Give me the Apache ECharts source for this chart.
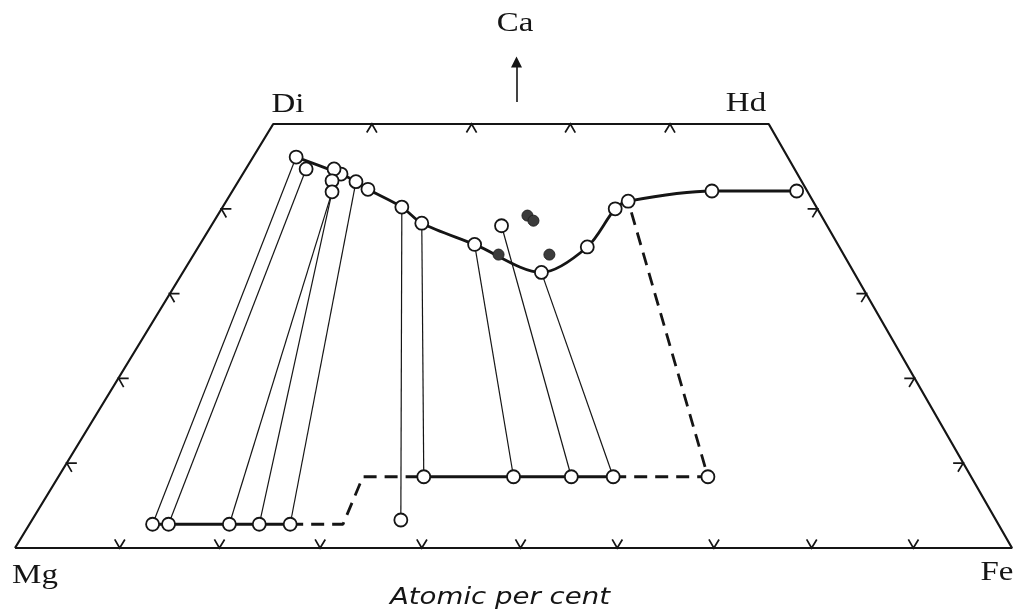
<!DOCTYPE html>
<html>
<head>
<meta charset="utf-8">
<script src="https://cdn.jsdelivr.net/npm/echarts@6/dist/echarts.min.js"></script>
<style>
html, body { margin: 0; background: #fff; }
#chart { width: 1020px; height: 614px; }
</style>
</head>
<body>
<div id="chart"></div>
<script>
// x = position along the Mg-Fe base (%), y = Ca (atomic %)
const corners = [[0, 0], [25.9, 50], [75.6, 50], [100, 0]] // Mg, Di, Hd, Fe
const bottomTicks = [10.5, 20.5, 30.6, 40.8, 50.7, 60.4, 70.1, 79.9, 90.1]
const topTicks = [35.8, 45.8, 55.7, 65.7]
const leftTicks = [[5.2, 10], [10.4, 20], [15.5, 30], [20.7, 40]]
const rightTicks = [[95.1, 10], [90.2, 20], [85.4, 30], [80.5, 40]]

// Ca-rich pyroxene trend
const trend = [[28.2, 46.1], [32.7, 44.1], [34.2, 43.2], [35.4, 42.3], [38.8, 40.2], [40.8, 38.3],
    [46.1, 35.8], [52.8, 32.5], [57.4, 35.5], [60.2, 40.0], [61.5, 40.9], [69.9, 42.1], [78.4, 42.1]]
const extraOpen = [[29.2, 44.7], [32.0, 44.7], [31.8, 43.3], [31.8, 42.0], [48.8, 38.0]]
const filled = [[48.5, 34.6], [51.4, 39.2], [52.0, 38.6], [53.6, 34.6]]
// Ca-poor pyroxenes
const lowRow = [[13.8, 2.8], [15.4, 2.8], [21.5, 2.8], [24.5, 2.8], [27.6, 2.8]]
const midRow = [[41.0, 8.4], [50.0, 8.4], [55.8, 8.4], [60.0, 8.4]]
const dashLow = [[27.6, 2.8], [32.9, 2.8], [34.9, 8.4], [41.0, 8.4]]
const dashHigh = [[60.0, 8.4], [69.5, 8.4], [61.5, 40.9]]
const isolated = [[38.7, 3.3], [69.5, 8.4]]
const tieLines = [
    [[28.2, 46.1], [13.8, 2.8]],
    [[29.2, 44.7], [15.4, 2.8]],
    [[31.8, 42.0], [21.5, 2.8]],
    [[31.8, 42.0], [24.5, 2.8]],
    [[34.2, 43.2], [27.6, 2.8]],
    [[38.8, 40.2], [38.7, 3.3]],
    [[40.8, 38.3], [41.0, 8.4]],
    [[46.1, 35.8], [50.0, 8.4]],
    [[48.8, 38.0], [55.8, 8.4]],
    [[52.8, 32.5], [60.0, 8.4]],
]
const caArrow = [[50.3, 52.6], [50.3, 57.3]]

const tickData = [
    ...bottomTicks.map(x => [x, 0, 0]),
    ...topTicks.map(x => [x, 50, 1]),
    ...leftTicks.map(p => [p[0], p[1], 2]),
    ...rightTicks.map(p => [p[0], p[1], 3]),
]

const unit = (a, b) => {
    const dx = b[0] - a[0], dy = b[1] - a[1], l = Math.hypot(dx, dy)
    return [dx / l, dy / l]
}
const neg = v => [-v[0], -v[1]]

const ink = '#151515'
const openCircle = {
    type: 'scatter',
    symbol: 'circle',
    symbolSize: 13,
    z: 5,
    itemStyle: { color: '#fff', borderColor: ink, borderWidth: 1.8, opacity: 1 },
}
const labelStyle = (text, x, y) => ({
    type: 'text',
    x, y,
    scaleX: 1.22,
    style: {
        text,
        fontSize: 27,
        fontFamily: 'Liberation Serif',
        fill: ink,
        textAlign: 'center',
        textVerticalAlign: 'middle',
        align: 'center',
        verticalAlign: 'middle',
    },
})

const myChart = echarts.init(document.getElementById('chart'))
const option = {
    backgroundColor: '#fff',
    animation: false,
    grid: { left: 15, right: 8, top: 39.2, bottom: 66 },
    xAxis: { type: 'value', min: 0, max: 100, show: false },
    yAxis: { type: 'value', min: 0, max: 60, show: false },
    graphic: [
        labelStyle('Ca', 515, 24),
        labelStyle('Di', 288, 105),
        labelStyle('Hd', 746, 104),
        labelStyle('Mg', 35, 576),
        labelStyle('Fe', 997, 573),
        {
            type: 'text',
            x: 500, y: 598,
            scaleX: 1.2,
            style: {
                text: 'Atomic per cent',
                fontSize: 23,
                fontStyle: 'italic',
                fontFamily: 'DejaVu Sans',
                fill: ink,
                textAlign: 'center',
                textVerticalAlign: 'middle',
                align: 'center',
                verticalAlign: 'middle',
            },
        },
    ],
    series: [
        {
            // quadrilateral outline
            type: 'line',
            data: [...corners, corners[0]],
            showSymbol: false,
            lineStyle: { color: ink, width: 2.2 },
            z: 2,
        },
        {
            // chevron ticks along the edges
            type: 'custom',
            data: tickData,
            encode: { x: 0, y: 1 },
            z: 2,
            renderItem(params, api) {
                const p = api.coord([api.value(0), api.value(1)])
                const side = api.value(2)
                const c = corners.map(v => api.coord(v))
                const uL = unit(c[0], c[1])
                const uR = unit(c[3], c[2])
                const h = [1, 0]
                const arms = [[uL, uR], [neg(uL), neg(uR)], [h, neg(uR)], [neg(h), neg(uL)]][side]
                const len = 10
                return {
                    type: 'polyline',
                    shape: {
                        points: [
                            [p[0] + arms[0][0] * len, p[1] + arms[0][1] * len],
                            p,
                            [p[0] + arms[1][0] * len, p[1] + arms[1][1] * len],
                        ],
                    },
                    style: { stroke: ink, lineWidth: 1.7, fill: null },
                }
            },
        },
        {
            // tie lines
            type: 'lines',
            coordinateSystem: 'cartesian2d',
            data: tieLines.map(c => ({ coords: c })),
            lineStyle: { color: ink, width: 1.2, opacity: 1 },
            z: 3,
        },
        {
            // Ca arrow
            type: 'lines',
            coordinateSystem: 'cartesian2d',
            data: [{ coords: caArrow }],
            symbol: ['none', 'triangle'],
            symbolSize: [9, 11],
            lineStyle: { color: ink, width: 1.6, opacity: 1 },
            z: 3,
        },
        {
            type: 'line',
            data: trend,
            smooth: 0.3,
            showSymbol: false,
            lineStyle: { color: ink, width: 2.8 },
            z: 4,
        },
        {
            type: 'line',
            data: lowRow,
            showSymbol: false,
            lineStyle: { color: ink, width: 2.8 },
            z: 4,
        },
        {
            type: 'line',
            data: midRow,
            showSymbol: false,
            lineStyle: { color: ink, width: 2.8 },
            z: 4,
        },
        {
            type: 'line',
            data: dashLow,
            showSymbol: false,
            lineStyle: { color: ink, width: 2.8, type: [13, 8] },
            z: 4,
        },
        {
            type: 'line',
            data: dashHigh,
            showSymbol: false,
            lineStyle: { color: ink, width: 2.8, type: [13, 8] },
            z: 4,
        },
        { ...openCircle, data: trend },
        { ...openCircle, data: extraOpen },
        { ...openCircle, data: lowRow },
        { ...openCircle, data: midRow },
        { ...openCircle, data: isolated },
        {
            type: 'scatter',
            data: filled,
            symbol: 'circle',
            symbolSize: 11,
            z: 6,
            itemStyle: { color: '#3c3c3c', borderColor: '#222', borderWidth: 1, opacity: 1 },
        },
    ],
}
option && myChart.setOption(option)
</script>
</body>
</html>
